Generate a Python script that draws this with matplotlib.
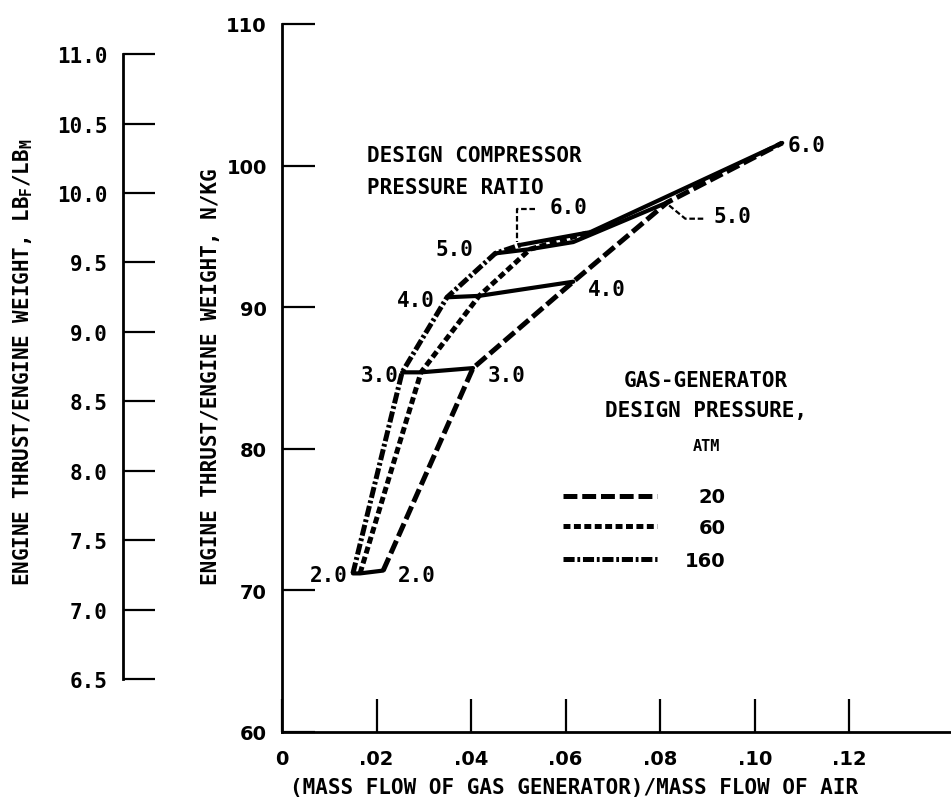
import matplotlib
matplotlib.use("Agg")
import matplotlib.pyplot as plt
from matplotlib.lines import Line2D

plt.rcParams['lines.scale_dashes'] = False
plt.rcParams['mathtext.fontset'] = 'custom'
plt.rcParams['mathtext.rm'] = 'DejaVu Sans Mono:bold'

# ---- data ----
ratios = ["2.0", "3.0", "4.0", "5.0", "6.0"]
# gas-generator design pressure 160 atm
x_160 = [0.0150, 0.0254, 0.0349, 0.0451, 0.0504]
y_160 = [71.2, 85.4, 90.7, 93.8, 94.4]
# 60 atm
x_60 = [0.0165, 0.0294, 0.0417, 0.0525, 0.0652]
y_60 = [71.2, 85.4, 90.8, 94.1, 95.3]
# 20 atm
x_20 = [0.0214, 0.0404, 0.0616, 0.0815, 0.1058]
y_20 = [71.4, 85.7, 91.8, 97.4, 101.6]
# extra point read on the 5.0 ratio line (kink)
x_r5_mid = 0.0616
y_r5_mid = 94.6

pressures = ["20", "60", "160"]
x_ticks = [0, 0.02, 0.04, 0.06, 0.08, 0.10, 0.12]
x_ticklabels = ["0", ".02", ".04", ".06", ".08", ".10", ".12"]
y_ticks = [60, 70, 80, 90, 100, 110]
y2_ticks = [6.5, 7.0, 7.5, 8.0, 8.5, 9.0, 9.5, 10.0, 10.5, 11.0]
CONV = 9.80665

MONO = 'DejaVu Sans Mono'
PROP = 'DejaVu Sans'

fig = plt.figure(figsize=(9.51, 8.03), dpi=100)
bottom = 1 - 733 / 803
top = 1 - 25 / 803
left = 282 / 951
ax = fig.add_axes([left, bottom, 1 - left, top - bottom])
ax.set_xlim(0, 0.1415)
ax.set_ylim(60, 110)

for s in ['top', 'right']:
    ax.spines[s].set_visible(False)
for s in ['left', 'bottom']:
    ax.spines[s].set_linewidth(2)

ax.set_xticks(x_ticks)
ax.set_xticklabels(x_ticklabels, fontsize=14, family=PROP, fontweight='bold')
ax.set_yticks(y_ticks)
ax.set_yticklabels([str(v) for v in y_ticks], fontsize=14, family=PROP, fontweight='bold')
ax.tick_params(axis='both', direction='in', length=24, width=1.6, colors='black')
ax.tick_params(axis='x', pad=12)
ax.tick_params(axis='y', pad=11)

dash20 = (0, (10, 3.5))
dash60 = (0, (5, 2.5))
dash160 = (0, (8, 2, 2, 2))
LW = 3.6

ax.plot(x_20, y_20, color='black', lw=LW, linestyle=dash20)
ax.plot(x_60, y_60, color='black', lw=LW, linestyle=dash60)
ax.plot(x_160, y_160, color='black', lw=LW, linestyle=dash160)

# constant compressor pressure ratio lines
for i in range(len(ratios)):
    xs = [x_160[i], x_60[i]]
    ys = [y_160[i], y_60[i]]
    if i == 3:
        xs.append(x_r5_mid)
        ys.append(y_r5_mid)
    xs.append(x_20[i])
    ys.append(y_20[i])
    ax.plot(xs, ys, color='black', lw=3.0, solid_capstyle='round')

tk = dict(fontsize=15, family=MONO, fontweight='bold', color='black', va='center')
ax.text(0.01397, 71.09, "2.0", ha='right', **tk)
ax.text(0.02455, 71.09, "2.0", ha='left', **tk)
ax.text(0.02455, 85.23, "3.0", ha='right', **tk)
ax.text(0.0436, 85.23, "3.0", ha='left', **tk)
ax.text(0.03238, 90.49, "4.0", ha='right', **tk)
ax.text(0.06476, 91.27, "4.0", ha='left', **tk)
ax.text(0.04042, 94.11, "5.0", ha='right', **tk)
ax.text(0.05651, 97.10, "6.0", ha='left', **tk)
ax.text(0.09122, 96.46, "5.0", ha='left', **tk)
ax.text(0.10688, 101.44, "6.0", ha='left', **tk)

# leaders
ax.plot([0.05354, 0.04974, 0.04974], [96.96, 96.96, 94.6], color='black', lw=1.6,
        linestyle=(0, (4, 2)))
ax.plot([0.0891, 0.0853, 0.0811], [96.25, 96.25, 97.4], color='black', lw=1.6,
        linestyle=(0, (4, 2)))

ax.text(0.0180, 100.72, "DESIGN COMPRESSOR", ha='left', **tk)
ax.text(0.0180, 98.52, "PRESSURE RATIO", ha='left', **tk)

ax.text(0.0897, 84.88, "GAS-GENERATOR", ha='center', **tk)
ax.text(0.0897, 82.74, "DESIGN PRESSURE,", ha='center', **tk)
ax.text(0.0897, 80.26, "ATM", ha='center', fontsize=11, family=MONO,
        fontweight='bold', va='center')

leg_y = [76.70, 74.57, 72.22]
leg_styles = [dash20, dash60, dash160]
for yy, st, lab in zip(leg_y, leg_styles, pressures):
    ax.add_line(Line2D([0.0595, 0.0794], [yy, yy], color='black', lw=LW, linestyle=st))
    ax.text(0.09376, yy - 0.1, lab, ha='right', va='center', fontsize=14,
            family=PROP, fontweight='bold')

ax.set_xlabel("(MASS FLOW OF GAS GENERATOR)/MASS FLOW OF AIR", fontsize=15,
              family=MONO, fontweight='bold')
ax.set_ylabel("ENGINE THRUST/ENGINE WEIGHT, N/KG", fontsize=15, family=MONO,
              fontweight='bold')
ax.yaxis.set_label_coords((221 - 282) / (951 - 282), (733 - 377) / (733 - 25))
ax.xaxis.set_label_coords((574 - 282) / (951 - 282), -(778 - 733) / (733 - 25))

# secondary (LB_F/LB_M) scale
ax2 = fig.add_axes([123 / 951, bottom, 0.05, top - bottom])
ax2.set_ylim(60 / CONV, 110 / CONV)
ax2.patch.set_visible(False)
for s in ['top', 'right', 'bottom']:
    ax2.spines[s].set_visible(False)
ax2.spines['left'].set_linewidth(2)
ax2.spines['left'].set_bounds(6.5, 11.0)
ax2.set_xticks([])
ax2.set_yticks(y2_ticks)
ax2.set_yticklabels([f"{v:.1f}" for v in y2_ticks], fontsize=15, family=MONO,
                    fontweight='bold')
ax2.tick_params(axis='y', direction='in', length=23, width=1.6, pad=11)
ax2.set_ylabel(r"ENGINE THRUST/ENGINE WEIGHT, LB$_\mathregular{F}$/LB$_\mathregular{M}$",
               fontsize=15, family=MONO, fontweight='bold')
ax2.yaxis.set_label_coords((35 - 123) / (0.05 * 951), (733 - 362) / (733 - 25))

fig.savefig("out.png", dpi=100)
